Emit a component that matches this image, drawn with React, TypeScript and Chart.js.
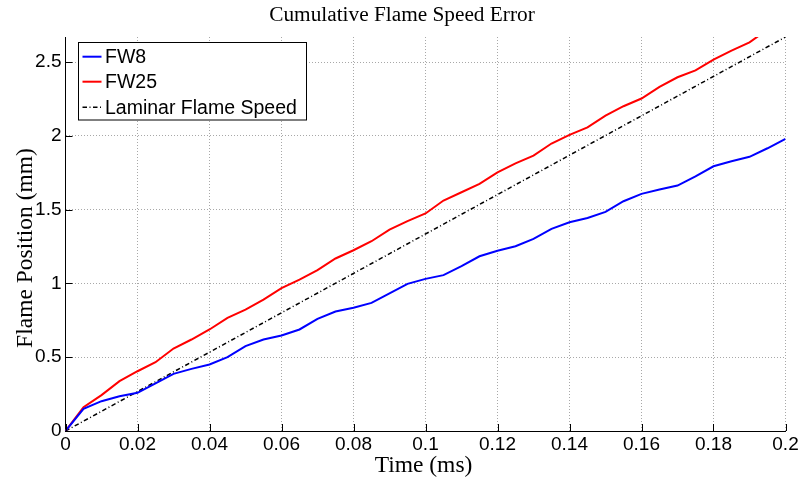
import React, { useEffect, useRef } from 'react';
import { Chart, registerables } from 'chart.js';

Chart.register(...registerables);

const titleText = 'Cumulative Flame Speed Error';
const xLabel = 'Time (ms)';
const yLabel = 'Flame Position (mm)';

const timeMs = [
  0, 0.005, 0.01, 0.015, 0.02, 0.025, 0.03, 0.035, 0.04, 0.045,
  0.05, 0.055, 0.06, 0.065, 0.07, 0.075, 0.08, 0.085, 0.09, 0.095,
  0.1, 0.105, 0.11, 0.115, 0.12, 0.125, 0.13, 0.135, 0.14, 0.145,
  0.15, 0.155, 0.16, 0.165, 0.17, 0.175, 0.18, 0.185, 0.19, 0.195, 0.2,
];

const fw8 = [
  0, 0.15, 0.202, 0.236, 0.259, 0.322, 0.387, 0.421, 0.451, 0.5,
  0.575, 0.62, 0.647, 0.688, 0.76, 0.81, 0.835, 0.868, 0.932, 0.997,
  1.031, 1.056, 1.117, 1.184, 1.221, 1.252, 1.302, 1.37, 1.415, 1.444,
  1.485, 1.557, 1.607, 1.636, 1.663, 1.726, 1.794, 1.828, 1.858, 1.916, 1.98,
];

const fw25 = [
  0, 0.161, 0.243, 0.338, 0.405, 0.466, 0.559, 0.62, 0.688, 0.767,
  0.823, 0.891, 0.968, 1.026, 1.09, 1.169, 1.225, 1.286, 1.365, 1.422,
  1.474, 1.562, 1.618, 1.675, 1.753, 1.814, 1.866, 1.948, 2.007, 2.058,
  2.137, 2.201, 2.253, 2.332, 2.397, 2.444, 2.517, 2.578, 2.634, 2.72, 2.79,
];

const laminarTime = [0, 0.2];
const laminarPos = [0, 2.67];

const seriesLabels = ['FW8', 'FW25', 'Laminar Flame Speed'];
const xMin = 0;
const xMax = 0.2;
const xStep = 0.02;
const yMin = 0;
const yMax = 2.67;
const yStep = 0.5;

const fmt = (v: number) => String(Number(Number(v).toFixed(4)));

const decorPlugin = {
  id: 'decor',
  afterDraw(chart: any) {
    const { ctx, chartArea: a, scales } = chart;
    ctx.save();
    // inward tick marks
    ctx.strokeStyle = '#000';
    ctx.lineWidth = 1;
    scales.x.ticks.forEach((t: any) => {
      const px = Math.round(scales.x.getPixelForValue(t.value)) + 0.5;
      ctx.beginPath();
      ctx.moveTo(px, a.bottom);
      ctx.lineTo(px, a.bottom - 7);
      ctx.stroke();
    });
    scales.y.ticks.forEach((t: any) => {
      const py = Math.round(scales.y.getPixelForValue(t.value)) + 0.5;
      ctx.beginPath();
      ctx.moveTo(a.left, py);
      ctx.lineTo(a.left + 7, py);
      ctx.stroke();
    });

    // title
    ctx.fillStyle = '#000';
    ctx.textAlign = 'center';
    ctx.textBaseline = 'alphabetic';
    ctx.font = '21.3px "Liberation Serif"';
    ctx.fillText(titleText, 402, 21);

    // x label
    ctx.font = '23.5px "Liberation Serif"';
    ctx.fillText(xLabel, 423.5, 472);

    // y label
    ctx.save();
    ctx.translate(31.5, 248);
    ctx.rotate(-Math.PI / 2);
    ctx.fillText(yLabel, 0, 0);
    ctx.restore();

    // legend
    const bx = 78.5, by = 42.5, bw = 228, bh = 77.5;
    ctx.fillStyle = '#fff';
    ctx.fillRect(bx, by, bw, bh);
    ctx.strokeStyle = '#000';
    ctx.lineWidth = 1;
    ctx.strokeRect(bx, by, bw, bh);
    const rows = [56.7, 81.7, 107.3];
    ctx.font = '19.5px "Liberation Sans"';
    ctx.textAlign = 'left';
    ctx.textBaseline = 'middle';
    chart.data.datasets.forEach((ds: any, i: number) => {
      const y = rows[i];
      ctx.save();
      ctx.strokeStyle = ds.borderColor;
      ctx.lineWidth = ds.borderWidth;
      ctx.setLineDash(ds.borderDash || []);
      ctx.beginPath();
      ctx.moveTo(82.5, y);
      ctx.lineTo(101.5, y);
      ctx.stroke();
      ctx.restore();
      ctx.fillStyle = '#000';
      ctx.fillText(ds.label, 105, y + 1);
    });
    ctx.restore();
  },
};

export default function App() {
  const ref = useRef<HTMLCanvasElement | null>(null);

  useEffect(() => {
    if (!ref.current) return;
    const chart = new Chart(ref.current, {
      type: 'line',
      data: {
        datasets: [
          {
            label: seriesLabels[0],
            data: timeMs.map((t, i) => ({ x: t, y: fw8[i] })),
            borderColor: '#0000ff',
            borderWidth: 2,
            pointRadius: 0,
            tension: 0,
          },
          {
            label: seriesLabels[1],
            data: timeMs.map((t, i) => ({ x: t, y: fw25[i] })),
            borderColor: '#ff0000',
            borderWidth: 2,
            pointRadius: 0,
            tension: 0,
          },
          {
            label: seriesLabels[2],
            data: laminarTime.map((t, i) => ({ x: t, y: laminarPos[i] })),
            borderColor: '#000000',
            borderWidth: 1.5,
            borderDash: [4.5, 2.5, 1, 2.5],
            pointRadius: 0,
            tension: 0,
          },
        ],
      },
      options: {
        animation: false,
        responsive: false,
        devicePixelRatio: 1,
        layout: { padding: { top: 37, right: 15.5, left: 0, bottom: 0 } },
        plugins: {
          legend: { display: false },
          tooltip: { enabled: false },
          title: { display: false },
        },
        scales: {
          x: {
            type: 'linear',
            min: xMin,
            max: xMax,
            afterFit: (s: any) => { s.height = 50; },
            ticks: {
              stepSize: xStep,
              includeBounds: false,
              color: '#000',
              font: { family: 'Liberation Sans', size: 19 },
              padding: 2,
              maxRotation: 0,
              autoSkip: false,
              callback: (v: any) => fmt(v),
            },
            grid: { color: '#a8a8a8', lineWidth: 1, drawTicks: false },
            border: { display: true, color: '#000', width: 1, dash: [1, 2] },
          },
          y: {
            type: 'linear',
            min: yMin,
            max: yMax,
            afterFit: (s: any) => { s.width = 65.5; },
            ticks: {
              stepSize: yStep,
              includeBounds: false,
              color: '#000',
              font: { family: 'Liberation Sans', size: 19 },
              padding: 4,
              autoSkip: false,
              callback: (v: any) => fmt(v),
            },
            grid: { color: '#a8a8a8', lineWidth: 1, drawTicks: false },
            border: { display: true, color: '#000', width: 1, dash: [1, 2] },
          },
        },
      },
      plugins: [decorPlugin],
    } as any);
    return () => chart.destroy();
  }, []);

  return (
    <div style={{ position: 'fixed', left: 0, top: 0, width: 801, height: 481, background: '#fff' }}>
      <canvas ref={ref} width={801} height={481} style={{ display: 'block' }} />
    </div>
  );
}
